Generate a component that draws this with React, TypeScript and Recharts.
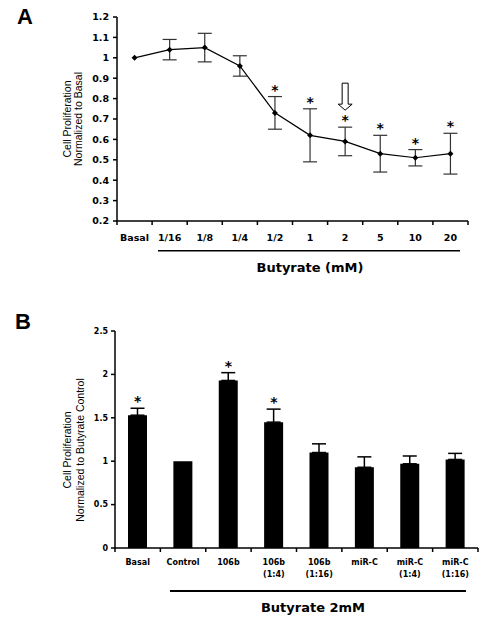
import { ComposedChart, Line, Bar, XAxis, YAxis, ErrorBar, LabelList } from "recharts";

// panel A: dose response
const doses = ["Basal", "1/16", "1/8", "1/4", "1/2", "1", "2", "5", "10", "20"];
const prolif = [1.0, 1.04, 1.05, 0.96, 0.73, 0.62, 0.59, 0.53, 0.51, 0.53];
const prolifErr = [null, 0.05, 0.07, 0.05, 0.08, 0.13, 0.07, 0.09, 0.04, 0.1];
const doseSig = [false, false, false, false, true, true, true, true, true, true];
const arrowDose = "2";
const prolifTicks = [0.2, 0.3, 0.4, 0.5, 0.6, 0.7, 0.8, 0.9, 1.0, 1.1, 1.2];

// panel B: butyrate 2mM treatments
const groups = ["Basal", "Control", "106b", "106b\n(1:4)", "106b\n(1:16)", "miR-C", "miR-C\n(1:4)", "miR-C\n(1:16)"];
const ratio = [1.53, 1.0, 1.93, 1.45, 1.1, 0.93, 0.97, 1.02];
const ratioErr = [0.08, null, 0.09, 0.15, 0.1, 0.12, 0.09, 0.07];
const groupSig = [true, false, true, true, false, false, false, false];
const ratioTicks = [0, 0.5, 1, 1.5, 2, 2.5];

const tickFont = "'DejaVu Sans', Verdana, sans-serif";
const labelFont = "'Liberation Sans', Arial, sans-serif";

const doseData = doses.map((dose, i) => ({
  dose,
  value: prolif[i],
  err: prolifErr[i],
  top: prolif[i] + (prolifErr[i] ?? 0),
  mark: doseSig[i] ? (dose === arrowDose ? "arrow" : "star") : null,
}));

const groupData = groups.map((group, i) => ({
  group,
  value: ratio[i],
  err: ratioErr[i] == null ? null : [0, ratioErr[i]],
  top: ratio[i] + (ratioErr[i] ?? 0),
  mark: groupSig[i] ? "star" : null,
}));

function Diamond(props: any) {
  const { cx, cy } = props;
  if (cx == null || cy == null) return null;
  return <path d={`M${cx},${cy - 3}L${cx + 3},${cy}L${cx},${cy + 3}L${cx - 3},${cy}Z`} fill="#000" />;
}

function SigMark(props: any) {
  const { x, y, value } = props;
  if (!value) return null;
  return (
    <g>
      <text x={x} y={y - 2} textAnchor="middle" fontFamily={tickFont} fontWeight="bold" fontSize={14} fill="#000">
        *
      </text>
      {value === "arrow" && (
        <path
          d={`M${x},${y - 17}L${x - 7},${y - 23}L${x - 3},${y - 23}L${x - 3},${y - 44}L${x + 3},${y - 44}L${x + 3},${y - 23}L${x + 7},${y - 23}Z`}
          fill="#fff"
          stroke="#000"
          strokeWidth={1}
        />
      )}
    </g>
  );
}

// category label plus a tick mark on the band boundary (the original puts ticks between categories)
function makeTick(size: number, first: number, gap: number) {
  return (props: any) => {
    const { x, y, payload, index, width, visibleTicksCount } = props;
    const lines = String(payload.value).split("\n");
    const half = width && visibleTicksCount ? width / visibleTicksCount / 2 : 0;
    return (
      <g>
        <line x1={x - half} x2={x - half} y1={y} y2={y + 4} stroke="#000" strokeWidth={1.5} />
        {index === visibleTicksCount - 1 && (
          <line x1={x + half} x2={x + half} y1={y} y2={y + 4} stroke="#000" strokeWidth={1.5} />
        )}
        <text x={x} y={y} textAnchor="middle" fontFamily={tickFont} fontWeight="bold" fontSize={size} fill="#000">
          {lines.map((l, i) => (
            <tspan key={i} x={x} dy={i === 0 ? first : gap}>
              {l}
            </tspan>
          ))}
        </text>
      </g>
    );
  };
}

const yTickA = { fontFamily: tickFont, fontWeight: "bold", fontSize: 9.5, fill: "#000" };
const yTickB = { fontFamily: tickFont, fontWeight: "bold", fontSize: 8, fill: "#000" };
const axisStroke = { stroke: "#000", strokeWidth: 1.5 };

function PanelA() {
  return (
    <ComposedChart width={494} height={290} data={doseData} margin={{ top: 17, right: 26, bottom: 39, left: 77 }}>
      <XAxis
        dataKey="dose"
        scale="band"
        height={30}
        axisLine={axisStroke}
        tickLine={false}
        tickSize={0}
        tickMargin={0}
        interval={0}
        tick={makeTick(9.5, 20, 12)}
      />
      <YAxis
        domain={[0.2, 1.2]}
        ticks={prolifTicks}
        tickFormatter={(v) => String(Math.round(v * 10) / 10)}
        width={40}
        tickSize={4}
        tickMargin={4}
        tick={yTickA}
        axisLine={axisStroke}
        tickLine={axisStroke}
        allowDataOverflow
      />
      <Line
        dataKey="value"
        stroke="#000"
        strokeWidth={1.2}
        dot={<Diamond />}
        activeDot={false}
        isAnimationActive={false}
      >
        <ErrorBar dataKey="err" width={7} stroke="#333" strokeWidth={1.2} direction="y" />
      </Line>
      <Line dataKey="top" stroke="none" dot={false} activeDot={false} isAnimationActive={false}>
        <LabelList dataKey="mark" content={<SigMark />} />
      </Line>
    </ComposedChart>
  );
}

function PanelB() {
  return (
    <ComposedChart width={494} height={319} data={groupData} margin={{ top: 31, right: 16, bottom: 41, left: 75 }}>
      <XAxis
        dataKey="group"
        height={30}
        axisLine={axisStroke}
        tickLine={false}
        tickSize={0}
        tickMargin={0}
        interval={0}
        tick={makeTick(8, 17, 12)}
      />
      <YAxis
        domain={[0, 2.5]}
        ticks={ratioTicks}
        width={40}
        tickSize={4}
        tickMargin={3}
        tick={yTickB}
        axisLine={axisStroke}
        tickLine={axisStroke}
      />
      <Bar dataKey="value" fill="#000" barSize={19} isAnimationActive={false}>
        <ErrorBar dataKey="err" width={7} stroke="#000" strokeWidth={1.5} direction="y" />
      </Bar>
      <Line dataKey="top" stroke="none" dot={false} activeDot={false} isAnimationActive={false}>
        <LabelList dataKey="mark" content={<SigMark />} />
      </Line>
    </ComposedChart>
  );
}

export default function App() {
  return (
    <div style={{ position: "absolute", left: 0, top: 0, width: 494, height: 619, background: "#fff" }}>
      <div style={{ position: "absolute", left: 0, top: 0 }}>
        <PanelA />
      </div>
      <div style={{ position: "absolute", left: 0, top: 300 }}>
        <PanelB />
      </div>
      <svg width={494} height={619} style={{ position: "absolute", left: 0, top: 0, pointerEvents: "none" }}>
        <text x={17} y={24} fontFamily={labelFont} fontWeight="bold" fontSize={22} fill="#000">A</text>
        <text x={15} y={329} fontFamily={labelFont} fontWeight="bold" fontSize={22} fill="#000">B</text>

        <text transform="translate(67,119) rotate(-90)" textAnchor="middle" dominantBaseline="central" fontFamily={labelFont} fontSize={10.5} fill="#000">
          Cell Proliferation
        </text>
        <text transform="translate(78,119) rotate(-90)" textAnchor="middle" dominantBaseline="central" fontFamily={labelFont} fontSize={10.5} fill="#000">
          Normalized to Basal
        </text>
        <line x1={158} x2={460} y1={250.7} y2={250.7} stroke="#000" strokeWidth={1.5} />
        <text x={310} y={267} textAnchor="middle" dominantBaseline="central" fontFamily={tickFont} fontWeight="bold" fontSize={13} fill="#000">
          Butyrate (mM)
        </text>

        <text transform="translate(67,450) rotate(-90)" textAnchor="middle" dominantBaseline="central" fontFamily={labelFont} fontSize={10.5} fill="#000">
          Cell Proliferation
        </text>
        <text transform="translate(80,450) rotate(-90)" textAnchor="middle" dominantBaseline="central" fontFamily={labelFont} fontSize={10.5} fill="#000">
          Normalized to Butyrate Control
        </text>
        <line x1={170} x2={466} y1={591} y2={591} stroke="#000" strokeWidth={2} />
        <text x={313} y={607} textAnchor="middle" dominantBaseline="central" fontFamily={tickFont} fontWeight="bold" fontSize={13} fill="#000">
          Butyrate 2mM
        </text>
      </svg>
    </div>
  );
}
